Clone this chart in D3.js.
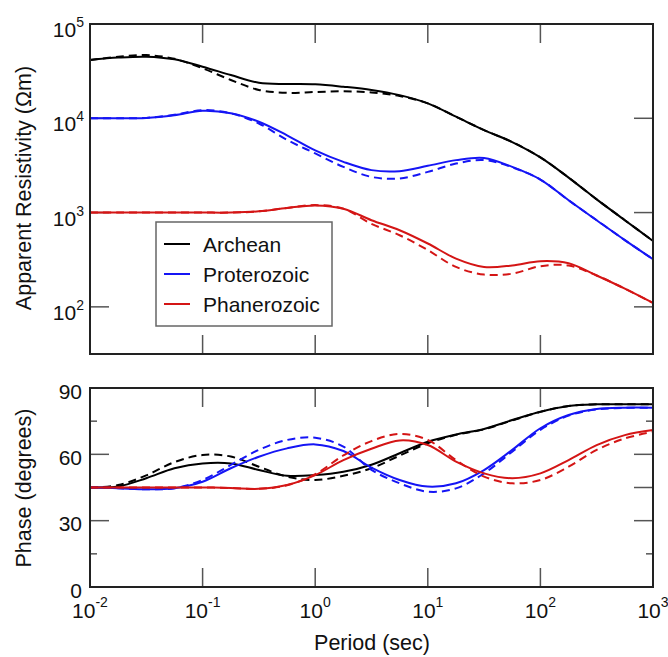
<!DOCTYPE html>
<html>
<head>
<meta charset="utf-8">
<script src="https://cdn.jsdelivr.net/npm/d3@7"></script>
<style>
  body { margin: 0; background: #fff; }
  text { font-family: "Liberation Sans", Arial, Helvetica, sans-serif; fill: #111; }
</style>
</head>
<body>
<script>
// Data.
var periods = [0.01, 0.0178, 0.0316, 0.0562, 0.1, 0.178, 0.316, 0.562, 1, 1.78, 3.16, 5.62,
               10, 17.8, 31.6, 56.2, 100, 178, 316, 562, 1000];

var rhoArchean      = [41500, 44000, 45000, 42200, 35200, 28800, 23800, 23100, 22900, 21600, 20000,
                       17600, 14400, 10400, 7500, 5600, 3850, 2350, 1380, 830, 500];
var rhoArcheanDash  = [41500, 45000, 46800, 42700, 33900, 25500, 20000, 18600, 19000, 19300, 18800,
                       17200, 14400, 10400, 7500, 5600, 3850, 2350, 1380, 830, 500];
var rhoProtero      = [10000, 10000, 10100, 10800, 12000, 11300, 9200, 6600, 4570, 3450, 2820,
                       2750, 3130, 3600, 3800, 3050, 2240, 1350, 830, 510, 320];
var rhoProteroDash  = [10000, 10000, 10100, 10900, 12200, 11300, 8800, 5900, 4240, 3050, 2390,
                       2300, 2700, 3310, 3600, 3020, 2240, 1350, 830, 510, 320];
var rhoPhanero      = [1000, 1000, 1000, 1000, 1000, 1000, 1030, 1120, 1190, 1100, 830,
                       650, 470, 325, 265, 275, 305, 290, 215, 156, 110];
var rhoPhaneroDash  = [1000, 1000, 1000, 1000, 1000, 1000, 1030, 1120, 1200, 1100, 760,
                       575, 400, 265, 220, 225, 270, 275, 215, 156, 110];

var phArchean       = [45, 45.5, 49.2, 53.7, 55.9, 55.9, 52.9, 50.3, 50.6, 52.1, 55.3,
                       60.5, 65.7, 69, 71.5, 75.5, 79.3, 81.9, 82.6, 82.6, 82.6];
var phArcheanDash   = [45, 46.1, 50.5, 56.5, 59.7, 59, 54.4, 49.9, 48.4, 50.3, 53.7,
                       59.4, 65, 68.8, 71.3, 75.3, 79.2, 81.9, 82.6, 82.6, 82.6];
var phProtero       = [45, 44.7, 44.2, 44.7, 47.6, 53.7, 58.9, 62.7, 64.5, 61.5, 54,
                       48.4, 45.4, 46.9, 52.9, 62, 71.8, 77.8, 80.5, 81.1, 81.1];
var phProteroDash   = [45, 44.7, 44.2, 44.7, 48.4, 55.2, 62, 66.5, 67.5, 63.5, 53,
                       46.9, 43.1, 44.6, 51.4, 61.2, 71.1, 77.5, 80.3, 81, 81];
var phPhanero       = [45, 45, 45, 45, 45, 44.8, 44.4, 46.1, 50.6, 57.4, 62.5,
                       66.3, 64.2, 56.7, 51.4, 49.2, 51.4, 57.4, 64.2, 68.7, 71];
var phPhaneroDash   = [45, 45, 45, 45, 45, 44.8, 44.4, 46, 51, 59.5, 66,
                       69.2, 66.5, 57.4, 49.9, 46.9, 48.4, 54.4, 62, 67.2, 70.2];

var seriesNames  = ["Archean", "Proterozoic", "Phanerozoic"];
var seriesColors = ["#000000", "#1515f5", "#d41515"];

var periodTickExps = [-2, -1, 0, 1, 2, 3];
var rhoTickExps    = [5, 4, 3, 2];
var phaseLabels    = [0, 30, 60, 90];
var phaseMajor     = [30, 45, 60];
var phaseMinor     = [15, 75];

// Add svg element.
var svg = d3.select("body")
  .append("svg")
  .attr("width", 668)
  .attr("height", 657);

var left = 90, right = 653;
var topA = 24, botA = 354;
var topB = 388, botB = 587;

var x = d3.scaleLog().domain([0.01, 1000]).range([left, right]);
var yRho = d3.scaleLog().domain([Math.pow(10, 1.5), 1e5]).range([botA, topA]);
var yPh = d3.scaleLinear().domain([0, 90]).range([botB, topB]);

var tickColor = "#555";
var tickLen = 19;

function drawCurves(g, yScale, arrays) {
  var line = d3.line()
    .x(function(d, i){ return x(periods[i]); })
    .y(function(d){ return yScale(d); })
    .curve(d3.curveCatmullRom.alpha(0.5));
  arrays.forEach(function(a, k){
    g.append("path")
      .attr("d", line(a[0]))
      .attr("fill", "none")
      .attr("stroke", seriesColors[k])
      .attr("stroke-width", 2);
    g.append("path")
      .attr("d", line(a[1]))
      .attr("fill", "none")
      .attr("stroke", seriesColors[k])
      .attr("stroke-width", 2)
      .attr("stroke-dasharray", "8,5");
  });
}

function periodTicks(top, bot) {
  periodTickExps.slice(1, -1).forEach(function(e){
    var px = x(Math.pow(10, e));
    svg.append("line").attr("x1", px).attr("x2", px).attr("y1", top).attr("y2", top + tickLen)
      .attr("stroke", tickColor).attr("stroke-width", 1.5);
    svg.append("line").attr("x1", px).attr("x2", px).attr("y1", bot).attr("y2", bot - tickLen)
      .attr("stroke", tickColor).attr("stroke-width", 1.5);
  });
}

/****************** Resistivity panel ******************/

periodTicks(topA, botA);
rhoTickExps.forEach(function(e){
  var py = yRho(Math.pow(10, e));
  if (e < 5) {
    svg.append("line").attr("x1", left).attr("x2", left + tickLen).attr("y1", py).attr("y2", py)
      .attr("stroke", tickColor).attr("stroke-width", 1.5);
    svg.append("line").attr("x1", right).attr("x2", right - tickLen).attr("y1", py).attr("y2", py)
      .attr("stroke", tickColor).attr("stroke-width", 1.5);
  }
  var t = svg.append("text")
    .attr("x", 84).attr("y", py + 13)
    .attr("text-anchor", "end")
    .style("font-size", "21px");
  t.append("tspan").text("10");
  t.append("tspan").attr("dy", -10).style("font-size", "14px").text(e);
});

drawCurves(svg.append("g"), yRho, [
  [rhoArchean, rhoArcheanDash],
  [rhoProtero, rhoProteroDash],
  [rhoPhanero, rhoPhaneroDash]
]);

svg.append("rect")
  .attr("x", left).attr("y", topA)
  .attr("width", right - left).attr("height", botA - topA)
  .attr("fill", "none").attr("stroke", "#222").attr("stroke-width", 2);

// Legend.
var legend = svg.append("g");
legend.append("rect")
  .attr("x", 156).attr("y", 222).attr("width", 176).attr("height", 104)
  .attr("fill", "#fff").attr("stroke", "#666").attr("stroke-width", 1.5);
seriesNames.forEach(function(name, i){
  var ly = 244 + i * 30;
  legend.append("line")
    .attr("x1", 164).attr("x2", 190).attr("y1", ly).attr("y2", ly)
    .attr("stroke", seriesColors[i]).attr("stroke-width", 2);
  legend.append("text")
    .attr("x", 203).attr("y", ly + 8)
    .style("font-size", "21px")
    .text(name);
});

svg.append("text")
  .attr("transform", "translate(31,188) rotate(-90)")
  .attr("text-anchor", "middle")
  .style("font-size", "21.5px")
  .text("Apparent Resistivity (\u03A9m)");

/****************** Phase panel ******************/

periodTicks(topB, botB);
phaseMajor.forEach(function(v){
  var py = yPh(v);
  svg.append("line").attr("x1", left).attr("x2", left + tickLen).attr("y1", py).attr("y2", py)
    .attr("stroke", tickColor).attr("stroke-width", 1.5);
  svg.append("line").attr("x1", right).attr("x2", right - tickLen).attr("y1", py).attr("y2", py)
    .attr("stroke", tickColor).attr("stroke-width", 1.5);
});
phaseMinor.forEach(function(v){
  var py = yPh(v);
  svg.append("line").attr("x1", left).attr("x2", left + 7).attr("y1", py).attr("y2", py)
    .attr("stroke", tickColor).attr("stroke-width", 1.5);
  svg.append("line").attr("x1", right).attr("x2", right - 7).attr("y1", py).attr("y2", py)
    .attr("stroke", tickColor).attr("stroke-width", 1.5);
});
phaseLabels.forEach(function(v){
  svg.append("text")
    .attr("x", 82).attr("y", yPh(v) + 10.5)
    .attr("text-anchor", "end")
    .style("font-size", "21px")
    .text(v);
});

drawCurves(svg.append("g"), yPh, [
  [phArchean, phArcheanDash],
  [phProtero, phProteroDash],
  [phPhanero, phPhaneroDash]
]);

svg.append("rect")
  .attr("x", left).attr("y", topB)
  .attr("width", right - left).attr("height", botB - topB)
  .attr("fill", "none").attr("stroke", "#222").attr("stroke-width", 2);

// Period tick labels.
periodTickExps.forEach(function(e){
  var t = svg.append("text")
    .attr("x", x(Math.pow(10, e))).attr("y", 618)
    .attr("text-anchor", "middle")
    .style("font-size", "21px");
  t.append("tspan").text("10");
  t.append("tspan").attr("dy", -11).style("font-size", "14px").text(e < 0 ? "-" + (-e) : e);
});

svg.append("text")
  .attr("transform", "translate(31,488) rotate(-90)")
  .attr("text-anchor", "middle")
  .style("font-size", "21.5px")
  .text("Phase (degrees)");

svg.append("text")
  .attr("x", 372).attr("y", 650)
  .attr("text-anchor", "middle")
  .style("font-size", "21.5px")
  .text("Period (sec)");
</script>
</body>
</html>
